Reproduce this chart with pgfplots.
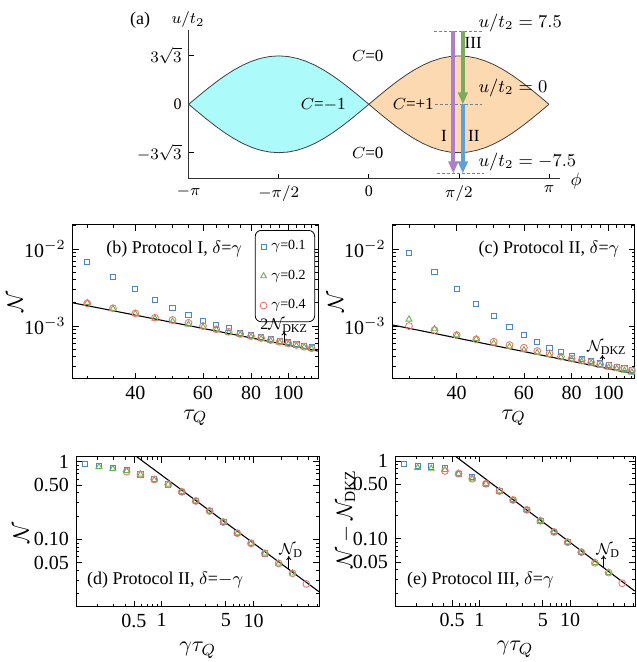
\documentclass[border=0pt]{standalone}
\usepackage{fontspec}
\setmainfont{Liberation Serif}
\usepackage{pgfplots}
\pgfplotsset{compat=1.18}
\usepackage{pgfplotstable}
\usepgfplotslibrary{fillbetween}
\usetikzlibrary{arrows.meta}

\definecolor{cblue}{RGB}{74,134,204}
\definecolor{cgreen}{RGB}{100,180,80}
\definecolor{cred}{RGB}{236,120,110}
\definecolor{lobecyan}{RGB}{172,250,250}
\definecolor{lobeorange}{RGB}{253,217,178}
\definecolor{arpurple}{RGB}{172,128,200}
\definecolor{argreen}{RGB}{125,170,95}
\definecolor{arblue}{RGB}{95,160,215}

% upper boundary of one lobe, u/t2 vs phi
\pgfplotstableread{
phi u
0      0
0.1571 0.8128
0.3142 1.6057
0.4712 2.3590
0.6283 3.0542
0.7854 3.6742
0.9425 4.2038
1.0996 4.6298
1.2566 4.9419
1.4137 5.1322
1.5708 5.1962
1.7279 5.1322
1.8850 4.9419
2.0420 4.6298
2.1991 4.2038
2.3562 3.6742
2.5133 3.0542
2.6704 2.3590
2.8274 1.6057
2.9845 0.8128
3.1416 0
}\lobe

\tikzset{
  sqm/.style={only marks, mark=square, mark size=1.3pt, color=cblue, mark options={solid, line width=0.45pt}},
  trim/.style={only marks, mark=triangle, mark size=1.7pt, color=cgreen, mark options={solid, line width=0.45pt}},
  cirm/.style={only marks, mark=o, mark size=1.7pt, color=cred, mark options={solid, line width=0.45pt}},
  fitline/.style={black, line width=0.55pt},
  note/.style={font=\fontsize{8}{8}\selectfont, inner sep=0pt, anchor=base west},
  ptext/.style={font=\fontsize{9}{9}\selectfont, inner sep=0pt, anchor=base west},
  upar/.style={-{To[length=2pt,width=2.6pt]}, line width=0.45pt},
}

\begin{document}
\begin{tikzpicture}

% ---------------- (a) phase diagram
\begin{axis}[scale only axis, anchor=south west, at={(94.35pt,241.6pt)},
  width=185.65pt, height=74.5pt,
  xmin=-3.1416, xmax=3.334, ymin=-8, ymax=8,
  axis lines*=left, axis line style={line width=0.45pt, black!80},
  tick align=inside, major tick length=2.5pt,
  every tick/.append style={black, line width=0.4pt},
  xtick={-3.1416,-1.5708,0,1.5708,3.1416},
  xticklabels={$-\pi$,$-\pi/2$,0,$\pi/2$,$\pi$},
  ytick={-5.1962,0,5.1962},
  yticklabels={$-3\sqrt{3}$,0,$3\sqrt{3}$},
  tick label style={font=\fontsize{8}{8}\selectfont},
  clip=false]
\addplot[name path=ou, draw=none] table[x=phi, y=u]{\lobe};
\addplot[name path=ol, draw=none] table[x=phi, y expr=-\thisrow{u}]{\lobe};
\addplot[name path=cu, draw=none] table[x expr=-\thisrow{phi}, y=u]{\lobe};
\addplot[name path=cl, draw=none] table[x expr=-\thisrow{phi}, y expr=-\thisrow{u}]{\lobe};
\addplot[lobeorange] fill between[of=ou and ol];
\addplot[lobecyan] fill between[of=cu and cl];
\addplot[black!75, line width=0.4pt] table[x=phi, y=u]{\lobe};
\addplot[black!75, line width=0.4pt] table[x=phi, y expr=-\thisrow{u}]{\lobe};
\addplot[black!75, line width=0.4pt] table[x expr=-\thisrow{phi}, y=u]{\lobe};
\addplot[black!75, line width=0.4pt] table[x expr=-\thisrow{phi}, y expr=-\thisrow{u}]{\lobe};
% dashed guide lines
\addplot[gray, line width=0.4pt, dash pattern=on 1.5pt off 1pt] coordinates {(1.133,7.84) (1.977,7.84)};
\addplot[gray, line width=0.4pt, dash pattern=on 1.5pt off 1pt] coordinates {(1.151,0) (1.977,0)};
\addplot[gray, line width=0.4pt, dash pattern=on 1.5pt off 1pt] coordinates {(1.18,-7.45) (2.0,-7.45)};
% protocol arrows
\addplot[arpurple, line width=2pt, -{Triangle[length=6pt,width=4.8pt]}] coordinates {(1.473,7.84) (1.473,-7.42)};
\addplot[argreen, line width=2pt, -{Triangle[length=6pt,width=4.8pt]}] coordinates {(1.64,7.84) (1.64,0)};
\addplot[arblue, line width=2pt, -{Triangle[length=6pt,width=4.8pt]}] coordinates {(1.64,0) (1.64,-7.42)};
\node[font=\fontsize{8.5}{9}\selectfont] at (axis cs:-0.02,5.19) {$C$=0};
\node[font=\fontsize{8.5}{9}\selectfont] at (axis cs:-0.02,-5.19) {$C$=0};
\node[font=\fontsize{8.5}{9}\selectfont] at (axis cs:-0.795,0) {$C$=$-$1};
\node[font=\fontsize{8.5}{9}\selectfont, fill=lobeorange, inner sep=0.5pt] at (axis cs:0.774,0) {$C$=+1};
\node[font=\fontsize{8.5}{9}\selectfont] at (axis cs:1.308,-3.4) {I};
\node[font=\fontsize{8.5}{9}\selectfont] at (axis cs:1.831,-3.4) {II};
\node[font=\fontsize{8.5}{9}\selectfont] at (axis cs:1.82,6.55) {III};
\node[font=\fontsize{9}{9}\selectfont, anchor=west, inner sep=0pt] at (axis cs:1.907,8.77) {$u/t_2 = 7.5$};
\node[font=\fontsize{9}{9}\selectfont, anchor=west, inner sep=0pt] at (axis cs:1.907,1.72) {$u/t_2 = 0$};
\node[font=\fontsize{9}{9}\selectfont, anchor=west, inner sep=0pt] at (axis cs:1.907,-6.23) {$u/t_2 = -7.5$};
\end{axis}
\node[font=\fontsize{9}{9}\selectfont] at (70pt,321pt) {(a)};
\node[font=\fontsize{8.5}{9}\selectfont] at (94pt,321pt) {$u/t_2$};
\node[font=\fontsize{9}{9}\selectfont] at (288pt,240.5pt) {$\phi$};

% ---------------- (b)
\begin{axis}[scale only axis, anchor=south west, xmode=log, ymode=log,
  tick align=inside, major tick length=3pt, minor tick length=1.6pt,
  axis line style={line width=0.5pt},
  every tick/.append style={black, line width=0.4pt},
  tick label style={font=\fontsize{10}{10}\selectfont},
  every axis label/.append style={font=\fontsize{11}{11}\selectfont},
  at={(36.35pt,141.5pt)}, width=122.65pt, height=77pt,
  xmin=27.5, xmax=119.5, ymin=2.05e-4, ymax=2.05e-2,
  xtick={40,60,80,100}, xticklabels={40,60,80,100},
  minor xtick={30,35,45,50,55,65,70,75,85,90,95,105,110,115},
  ytick={1e-3,1e-2}, yticklabels={10$^{-3}$,10$^{-2}$},
  minor ytick={3e-4,4e-4,5e-4,6e-4,7e-4,8e-4,9e-4,2e-3,3e-3,4e-3,5e-3,6e-3,7e-3,8e-3,9e-3,2e-2},
  xlabel={$\tau_Q$}, ylabel={$\mathcal{N}$},
  xlabel style={at={(axis description cs:0.5,-0.253)}, anchor=center},
  ylabel style={at={(axis description cs:-0.235,0.5)}, anchor=center},
  legend style={at={(0.988,0.9675)}, anchor=north east, draw=black, rounded corners=3pt,
    font=\fontsize{7}{7}\selectfont, row sep=4.6pt, inner xsep=2.5pt, inner ysep=3pt},
  legend image code/.code={\draw[mark repeat=2,mark phase=2] plot coordinates {(0cm,0cm) (0.12cm,0cm) (0.24cm,0cm)};},
  legend cell align=left]
\addplot[sqm] coordinates {(30,6.84e-3) (35,4.37e-3) (40,3.05e-3) (45,2.18e-3) (50,1.73e-3) (55,1.39e-3) (60,1.17e-3) (65,1.03e-3) (70,0.933e-3) (75,0.818e-3) (80,0.764e-3) (85,0.713e-3) (90,0.678e-3) (95,0.645e-3) (100,0.62e-3) (105,0.583e-3) (110,0.556e-3) (115,0.528e-3)};
\addlegendentry{$\gamma$=0.1}
\addplot[trim] coordinates {(30,2.0e-3) (35,1.68e-3) (40,1.44e-3) (45,1.25e-3) (50,1.15e-3) (55,1.05e-3) (60,0.97e-3) (65,0.89e-3) (70,0.82e-3) (75,0.77e-3) (80,0.72e-3) (85,0.68e-3) (90,0.64e-3) (95,0.61e-3) (100,0.58e-3) (105,0.555e-3) (110,0.53e-3) (115,0.505e-3)};
\addlegendentry{$\gamma$=0.2}
\addplot[cirm] coordinates {(30,1.97e-3) (35,1.70e-3) (40,1.46e-3) (45,1.28e-3) (50,1.20e-3) (55,1.10e-3) (60,1.0e-3) (65,0.906e-3) (70,0.843e-3) (75,0.787e-3) (80,0.741e-3) (85,0.698e-3) (90,0.658e-3) (95,0.625e-3) (100,0.595e-3) (105,0.567e-3) (110,0.539e-3) (115,0.513e-3)};
\addlegendentry{$\gamma$=0.4}
\addplot[fitline, no marks, forget plot] coordinates {(27.5,2.0e-3) (119.5,4.73e-4)};
\draw[upar] (axis cs:97.5,6.1e-4) -- (axis cs:97.5,8.5e-4);
\end{axis}
\node[ptext] at (53pt,204.35pt) {(b) Protocol I, $\delta$=$\gamma$};
\node[note] at (130pt,166pt) {2$\mathcal{N}_{\mathrm{DKZ}}$};

% ---------------- (c)
\begin{axis}[scale only axis, anchor=south west, xmode=log, ymode=log,
  tick align=inside, major tick length=3pt, minor tick length=1.6pt,
  axis line style={line width=0.5pt},
  every tick/.append style={black, line width=0.4pt},
  tick label style={font=\fontsize{10}{10}\selectfont},
  every axis label/.append style={font=\fontsize{11}{11}\selectfont},
  at={(196.35pt,141.5pt)}, width=121pt, height=77pt,
  xmin=27.2, xmax=117, ymin=2.05e-4, ymax=2.05e-2,
  xtick={40,60,80,100}, xticklabels={40,60,80,100},
  minor xtick={30,35,45,50,55,65,70,75,85,90,95,105,110,115},
  ytick={1e-3,1e-2}, yticklabels={10$^{-3}$,10$^{-2}$},
  minor ytick={3e-4,4e-4,5e-4,6e-4,7e-4,8e-4,9e-4,2e-3,3e-3,4e-3,5e-3,6e-3,7e-3,8e-3,9e-3,2e-2},
  xlabel={$\tau_Q$}, ylabel={$\mathcal{N}$},
  xlabel style={at={(axis description cs:0.5,-0.253)}, anchor=center},
  ylabel style={at={(axis description cs:-0.236,0.5)}, anchor=center}]
\addplot[sqm] coordinates {(30,8.95e-3) (35,5.07e-3) (40,3.03e-3) (45,1.93e-3) (50,1.35e-3) (55,0.98e-3) (60,0.763e-3) (65,0.625e-3) (70,0.523e-3) (75,0.464e-3) (80,0.408e-3) (85,0.377e-3) (90,0.355e-3) (95,0.327e-3) (100,0.312e-3) (105,0.296e-3) (110,0.285e-3) (115,0.268e-3)};
\addplot[trim] coordinates {(30,1.22e-3) (35,0.914e-3) (40,0.76e-3) (45,0.678e-3) (50,0.595e-3) (55,0.539e-3) (60,0.488e-3) (65,0.451e-3) (70,0.42e-3) (75,0.392e-3) (80,0.369e-3) (85,0.345e-3) (90,0.327e-3) (95,0.305e-3) (100,0.29e-3) (105,0.279e-3) (110,0.265e-3) (115,0.25e-3)};
\addplot[cirm] coordinates {(30,1.0e-3) (35,0.887e-3) (40,0.763e-3) (45,0.671e-3) (50,0.625e-3) (55,0.566e-3) (60,0.523e-3) (65,0.473e-3) (70,0.442e-3) (75,0.40e-3) (80,0.377e-3) (85,0.355e-3) (90,0.338e-3) (95,0.318e-3) (100,0.305e-3) (105,0.29e-3) (110,0.279e-3) (115,0.263e-3)};
\addplot[fitline, no marks] coordinates {(27.2,1.03e-3) (117,2.38e-4)};
\draw[upar] (axis cs:96.3,2.96e-4) -- (axis cs:96.3,4.2e-4);
\end{axis}
\node[ptext] at (239.15pt,204.35pt) {(c) Protocol II, $\delta$=$\gamma$};
\node[note] at (293.3pt,155pt) {$\mathcal{N}_{\mathrm{DKZ}}$};

% ---------------- (d)
\begin{axis}[scale only axis, anchor=south west, xmode=log, ymode=log,
  tick align=inside, major tick length=3pt, minor tick length=1.6pt,
  axis line style={line width=0.5pt},
  every tick/.append style={black, line width=0.4pt},
  tick label style={font=\fontsize{10}{10}\selectfont},
  every axis label/.append style={font=\fontsize{11}{11}\selectfont},
  at={(38pt,27.65pt)}, width=121.65pt, height=75pt,
  xmin=0.117, xmax=52, ymin=0.0136, ymax=1.16,
  xtick={0.5,1,5,10}, xticklabels={0.5,1,5,10},
  minor xtick={0.2,0.3,0.4,0.6,0.7,0.8,0.9,2,3,4,6,7,8,9,20,30,40,50},
  ytick={0.05,0.1,0.5,1}, yticklabels={0.05,0.10,0.50,1},
  minor ytick={0.02,0.03,0.04,0.06,0.07,0.08,0.09,0.2,0.3,0.4,0.6,0.7,0.8,0.9},
  xlabel={$\gamma\tau_Q$}, ylabel={$\mathcal{N}$},
  xlabel style={at={(axis description cs:0.5,-0.29)}, anchor=center},
  ylabel style={at={(axis description cs:-0.226,0.49)}, anchor=center}]
\addplot[sqm] coordinates {(0.147,0.925) (0.208,0.89) (0.294,0.84) (0.416,0.78) (0.588,0.687) (0.832,0.60) (1.18,0.51) (1.66,0.41) (2.35,0.312) (3.33,0.232) (4.7,0.167) (6.66,0.12) (9.4,0.089) (13.3,0.066)};
\addplot[trim] coordinates {(0.208,0.86) (0.294,0.81) (0.416,0.76) (0.588,0.687) (0.832,0.58) (1.18,0.51) (1.66,0.41) (2.35,0.312) (3.33,0.232) (4.7,0.167) (6.66,0.12) (9.4,0.089) (13.3,0.066) (18.8,0.049) (26.6,0.0366)};
\addplot[cirm] coordinates {(0.416,0.745) (0.588,0.687) (0.832,0.59) (1.18,0.51) (1.66,0.41) (2.35,0.312) (3.33,0.232) (4.7,0.167) (6.66,0.12) (9.4,0.089) (13.3,0.066) (18.8,0.049) (26.6,0.0366) (37.6,0.0267) (53.2,0.0198)};
\addplot[fitline, no marks] coordinates {(0.535,1.16) (51.6,0.0212)};
\draw[upar] (axis cs:24.2,0.0412) -- (axis cs:24.2,0.0611);
\end{axis}
\node[ptext] at (43.35pt,38.8pt) {(d) Protocol II, $\delta$=$-\gamma$};
\node[note] at (139.5pt,53.5pt) {$\mathcal{N}_{\mathrm{D}}$};

% ---------------- (e)
\begin{axis}[scale only axis, anchor=south west, xmode=log, ymode=log,
  tick align=inside, major tick length=3pt, minor tick length=1.6pt,
  axis line style={line width=0.5pt},
  every tick/.append style={black, line width=0.4pt},
  tick label style={font=\fontsize{10}{10}\selectfont},
  every axis label/.append style={font=\fontsize{11}{11}\selectfont},
  at={(197.5pt,28pt)}, width=120pt, height=75pt,
  xmin=0.117, xmax=52, ymin=0.0136, ymax=1.16,
  xtick={0.5,1,5,10}, xticklabels={0.5,1,5,10},
  minor xtick={0.2,0.3,0.4,0.6,0.7,0.8,0.9,2,3,4,6,7,8,9,20,30,40,50},
  ytick={0.05,0.1,0.5,1}, yticklabels={0.05,0.10,0.50,1},
  minor ytick={0.02,0.03,0.04,0.06,0.07,0.08,0.09,0.2,0.3,0.4,0.6,0.7,0.8,0.9},
  xlabel={$\gamma\tau_Q$}, ylabel={$\mathcal{N}-\mathcal{N}_{\mathrm{DKZ}}$},
  xlabel style={at={(axis description cs:0.5,-0.29)}, anchor=center},
  ylabel style={at={(axis description cs:-0.204,0.58)}, anchor=center}]
\addplot[sqm] coordinates {(0.147,0.907) (0.208,0.862) (0.294,0.85) (0.416,0.80) (0.588,0.687) (0.832,0.63) (1.18,0.51) (1.66,0.41) (2.35,0.315) (3.33,0.235) (4.7,0.17) (6.66,0.122) (9.4,0.09) (13.3,0.067)};
\addplot[trim] coordinates {(0.208,0.822) (0.294,0.80) (0.416,0.77) (0.588,0.687) (0.832,0.585) (1.18,0.51) (1.66,0.41) (2.35,0.315) (3.33,0.235) (4.7,0.17) (6.66,0.122) (9.4,0.09) (13.3,0.067) (18.8,0.049) (26.6,0.0366)};
\addplot[cirm] coordinates {(0.416,0.745) (0.588,0.687) (0.832,0.59) (1.18,0.51) (1.66,0.41) (2.35,0.315) (3.33,0.235) (4.7,0.17) (6.66,0.122) (9.4,0.09) (13.3,0.067) (18.8,0.049) (26.6,0.0366) (37.6,0.0267) (53.2,0.0198)};
\addplot[fitline, no marks] coordinates {(0.538,1.16) (51.6,0.0212)};
\draw[upar] (axis cs:23.4,0.0425) -- (axis cs:23.4,0.0611);
\end{axis}
\node[ptext] at (203.35pt,38.8pt) {(e) Protocol III, $\delta$=$\gamma$};
\node[note] at (298pt,53.5pt) {$\mathcal{N}_{\mathrm{D}}$};

\pgfresetboundingbox
\useasboundingbox (0,0) rectangle (318pt,331pt);
\end{tikzpicture}
\end{document}
